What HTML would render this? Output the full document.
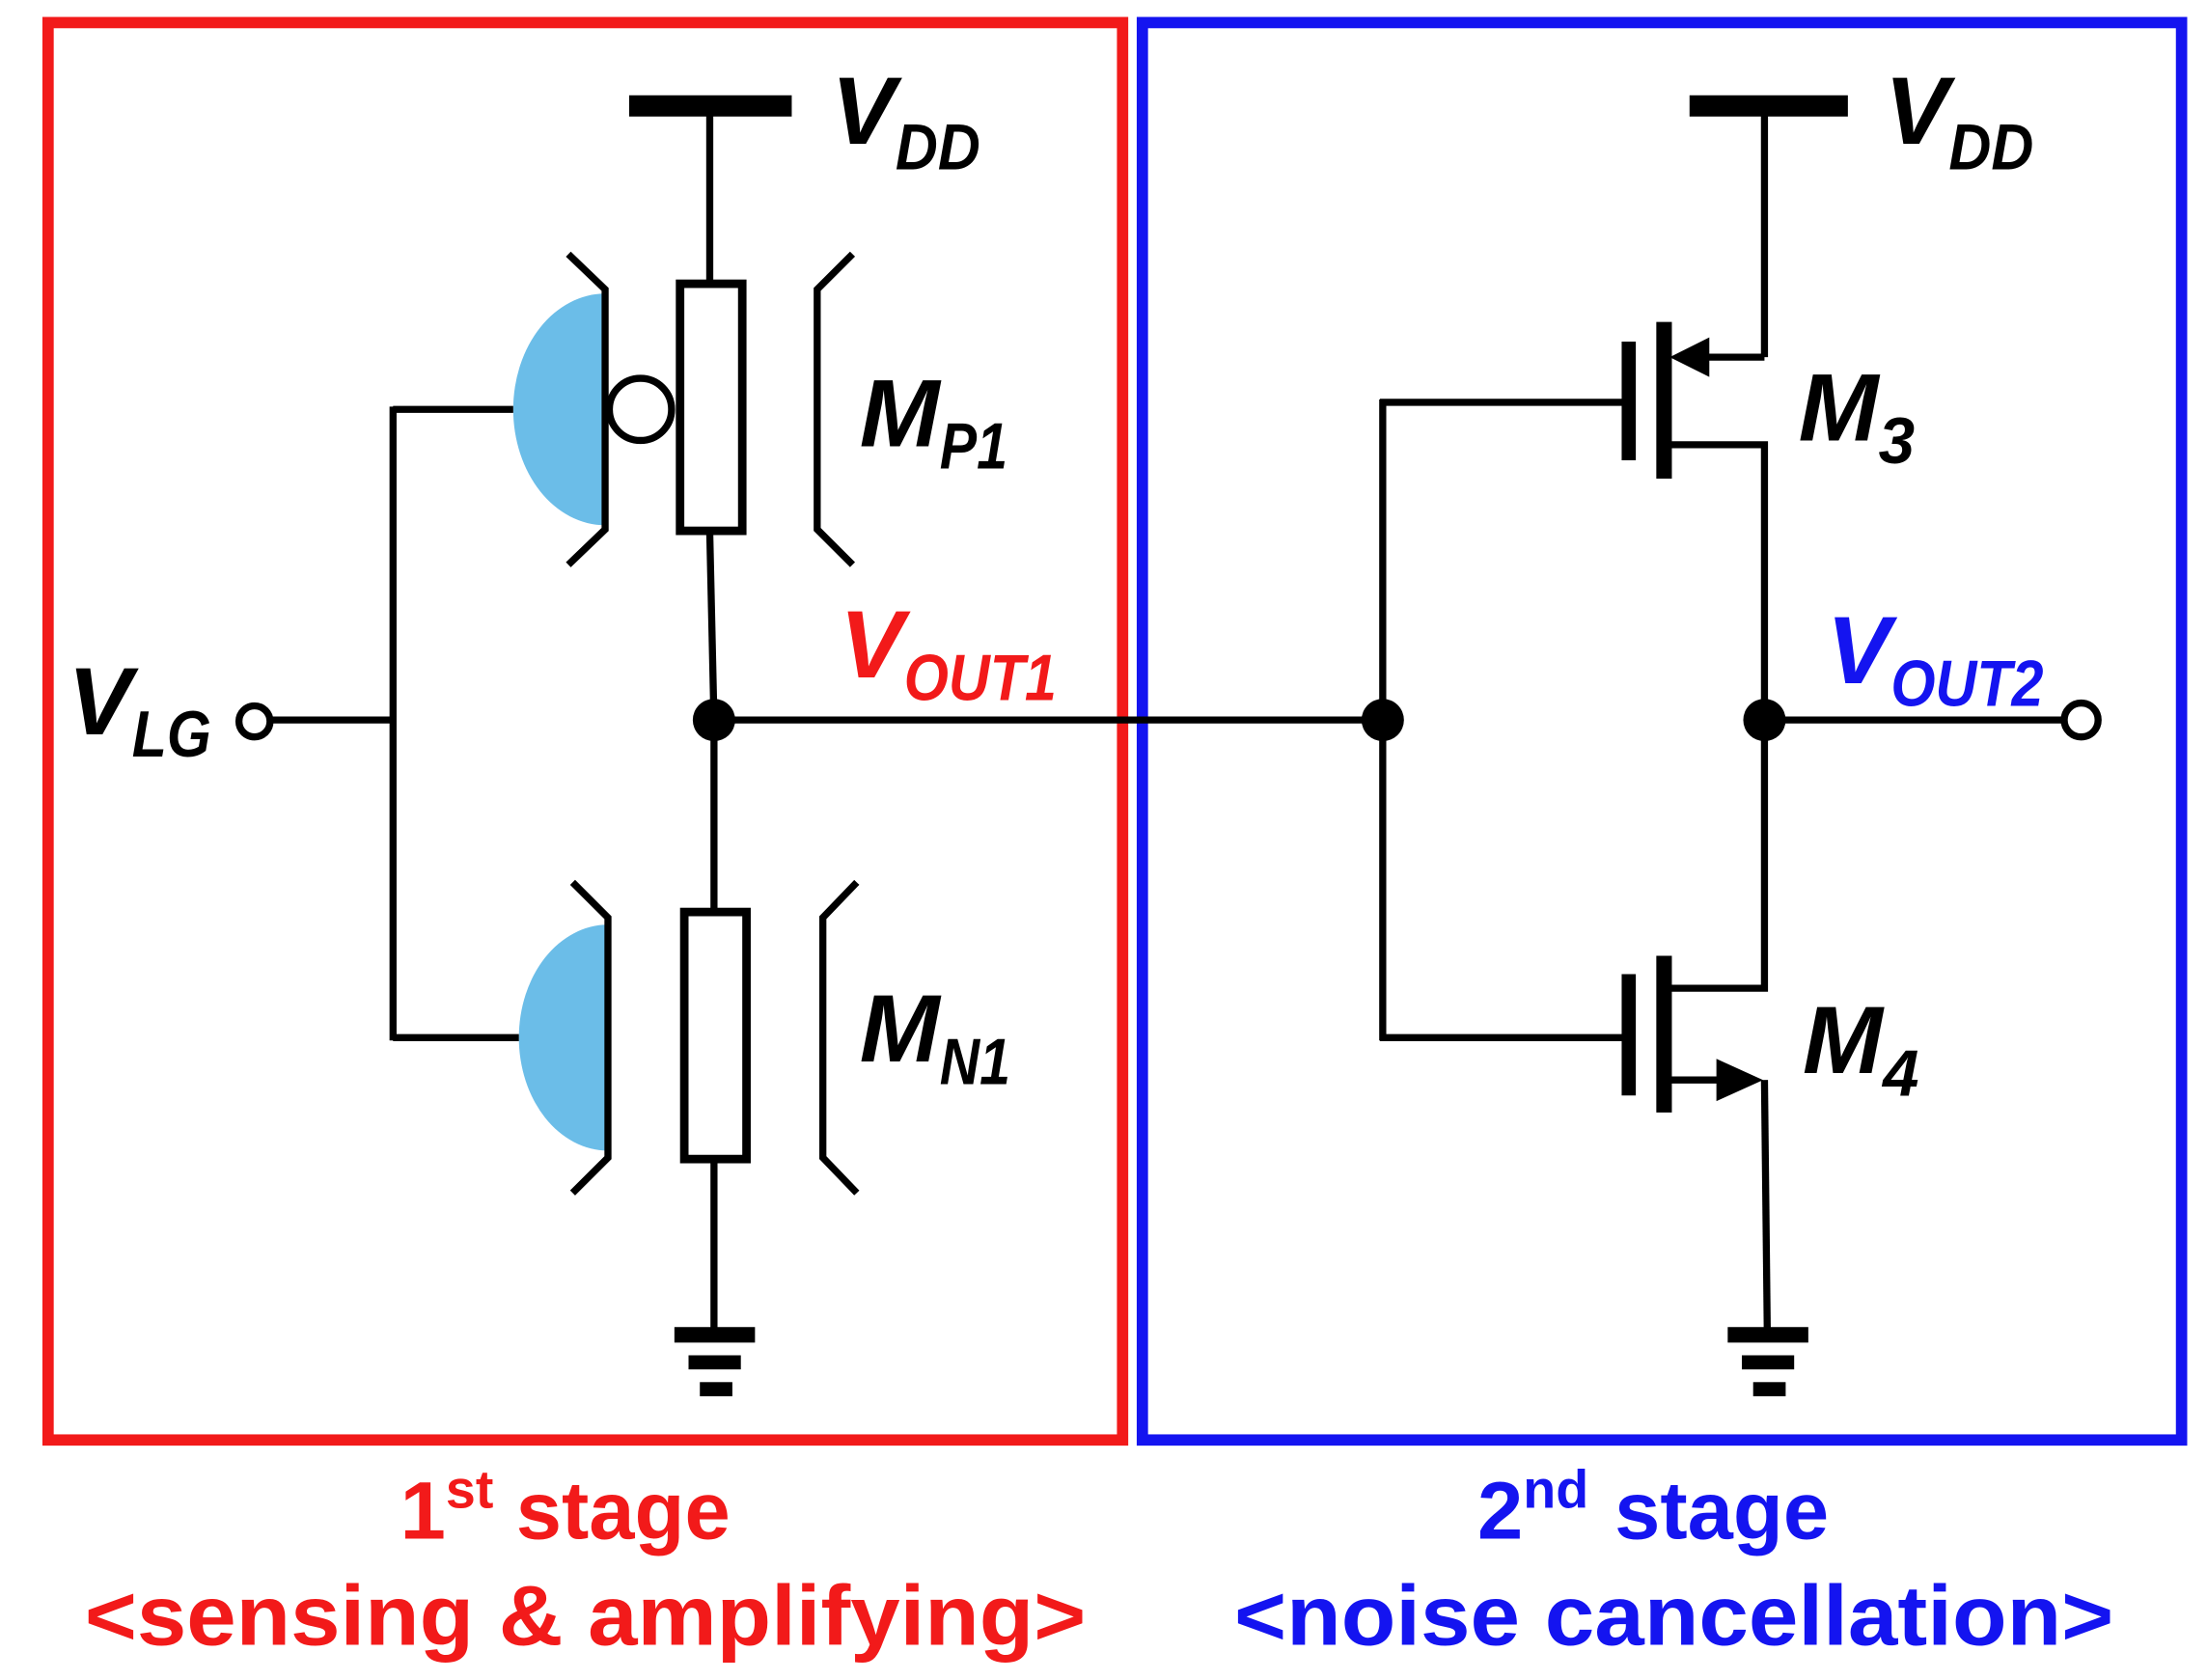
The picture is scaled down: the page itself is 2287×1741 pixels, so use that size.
<!DOCTYPE html>
<html><head><meta charset="utf-8"><style>
html,body{margin:0;padding:0;background:#fff;}
svg{display:block;}
text{font-family:"Liberation Sans",Arial,sans-serif;font-weight:bold;}
.lab{font-style:italic;}
</style></head><body>
<svg width="2287" height="1741" viewBox="0 0 1561 1190" preserveAspectRatio="none" xmlns="http://www.w3.org/2000/svg">
<rect width="1561" height="1190" fill="#fff"/>
<rect x="34" y="16" width="760" height="1004" fill="none" stroke="#f21a1a" stroke-width="8"/>
<rect x="808" y="16" width="735" height="1004" fill="none" stroke="#1414f0" stroke-width="8"/>
<g stroke="#000" stroke-width="5" fill="none">
<line x1="445" y1="75" x2="560" y2="75" stroke-width="15"/>
<line x1="502" y1="75" x2="502" y2="200"/>
<path d="M363,290 A65,82 0 0 1 428,208 L428,372 A65,82 0 0 1 363,290Z" fill="#6bbde8" stroke="none"/>
<rect x="481" y="201" width="44" height="175" fill="#fff" stroke-width="6"/>
<circle cx="453" cy="290" r="22" fill="#fff" stroke-width="5"/>
<path d="M402,180 L428,205 L428,375 L402,400"/>
<path d="M603,180 L578,205 L578,375 L603,400"/>
<line x1="278" y1="290" x2="363" y2="290"/>
<line x1="278" y1="288" x2="278" y2="737"/>
<line x1="190" y1="510" x2="278" y2="510"/>
<line x1="502" y1="377" x2="505" y2="510"/>
<line x1="505" y1="510" x2="505" y2="645"/>
<line x1="505" y1="510" x2="978" y2="510"/>
<path d="M367,735 A63,80 0 0 1 430,655 L430,815 A63,80 0 0 1 367,735Z" fill="#6bbde8" stroke="none"/>
<rect x="484" y="646" width="44" height="175" fill="#fff" stroke-width="6"/>
<path d="M405,625 L430,650 L430,820 L405,845"/>
<path d="M606,625 L582,650 L582,820 L606,845"/>
<line x1="278" y1="735" x2="367" y2="735"/>
<line x1="505" y1="822" x2="505" y2="945"/>
<line x1="1195" y1="75" x2="1307" y2="75" stroke-width="15"/>
<line x1="1248" y1="75" x2="1248" y2="253"/>
<line x1="1248" y1="253" x2="1205" y2="253"/>
<line x1="1177" y1="228" x2="1177" y2="339" stroke-width="11"/>
<line x1="1152" y1="242" x2="1152" y2="326" stroke-width="10"/>
<path d="M976,285 L1152,285"/>
<path d="M1177,315 L1248,315 L1248,700 L1177,700"/>
<line x1="978" y1="283" x2="978" y2="737"/>
<line x1="976" y1="735" x2="1152" y2="735"/>
<line x1="1177" y1="677" x2="1177" y2="788" stroke-width="11"/>
<line x1="1152" y1="690" x2="1152" y2="776" stroke-width="10"/>
<line x1="1177" y1="765" x2="1225" y2="765"/>
<line x1="1248" y1="765" x2="1250" y2="945"/>
<line x1="1248" y1="510" x2="1460" y2="510"/>
</g>
<polygon points="1181,253 1209,239 1209,267" fill="#000"/>
<polygon points="1247,765 1214,750 1214,780" fill="#000"/>
<circle cx="180" cy="511" r="11" fill="#fff" stroke="#000" stroke-width="5"/>
<circle cx="1472" cy="510" r="12" fill="#fff" stroke="#000" stroke-width="5"/>
<circle cx="505" cy="510" r="15" fill="#000"/>
<circle cx="978" cy="510" r="15" fill="#000"/>
<circle cx="1248" cy="510" r="15" fill="#000"/>
<g fill="#000">
<rect x="477" y="940" width="57" height="11"/><rect x="487" y="960" width="37" height="10"/><rect x="495" y="979" width="23" height="10"/>
<rect x="1222" y="940" width="57" height="11"/><rect x="1232" y="960" width="37" height="10"/><rect x="1240" y="979" width="23" height="10"/>
</g>
<text class="lab" x="588" y="102" font-size="68">V<tspan font-size="46" dy="18" textLength="60" lengthAdjust="spacingAndGlyphs">DD</tspan></text>
<text class="lab" x="1333" y="102" font-size="68">V<tspan font-size="46" dy="18" textLength="60" lengthAdjust="spacingAndGlyphs">DD</tspan></text>
<text class="lab" x="608" y="316" font-size="68">M<tspan font-size="46" dy="16" textLength="48" lengthAdjust="spacingAndGlyphs">P1</tspan></text>
<text class="lab" x="608" y="752" font-size="68">M<tspan font-size="46" dy="16" textLength="50" lengthAdjust="spacingAndGlyphs">N1</tspan></text>
<text class="lab" x="1272" y="312" font-size="68">M<tspan font-size="46" dy="16">3</tspan></text>
<text class="lab" x="1275" y="760" font-size="68">M<tspan font-size="46" dy="16">4</tspan></text>
<text class="lab" x="48" y="520" font-size="68">V<tspan font-size="46" dy="16" textLength="56" lengthAdjust="spacingAndGlyphs">LG</tspan></text>
<text class="lab" x="594" y="480" font-size="68" fill="#f21a1a">V<tspan font-size="46" dy="16" textLength="108" lengthAdjust="spacingAndGlyphs">OUT1</tspan></text>
<text class="lab" x="1292" y="484" font-size="68" fill="#1414f0">V<tspan font-size="46" dy="16" textLength="108" lengthAdjust="spacingAndGlyphs">OUT2</tspan></text>
<text x="283" y="1090" font-size="58" fill="#f21a1a">1<tspan font-size="38" dy="-22">st</tspan><tspan dy="22" x="365">stage</tspan></text>
<text x="60" y="1165" font-size="60" fill="#f21a1a" textLength="708" lengthAdjust="spacingAndGlyphs">&lt;sensing &amp; amplifying&gt;</text>
<text x="1045" y="1090" font-size="58" fill="#1414f0">2<tspan font-size="38" dy="-22">nd</tspan><tspan dy="22" x="1142">stage</tspan></text>
<text x="873" y="1165" font-size="60" fill="#1414f0" textLength="622" lengthAdjust="spacingAndGlyphs">&lt;noise cancellation&gt;</text>
</svg>
</body></html>
